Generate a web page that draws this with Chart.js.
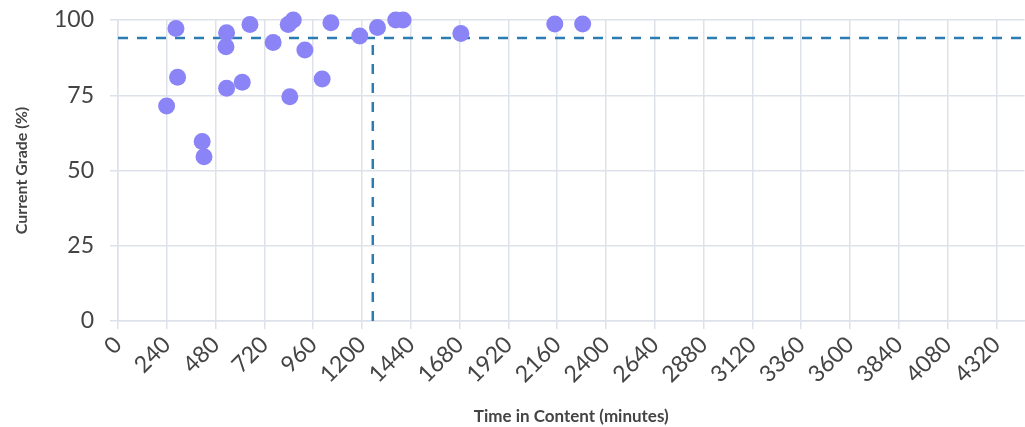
<!DOCTYPE html>
<html>
<head>
    <script src="https://cdn.jsdelivr.net/npm/chart.js"></script>
    <style>
        html, body {
            margin: 0;
            overflow: hidden;
            background-color: white;
            font-family: Lato, sans-serif;
        }
        /* a bit wider than the window so the plot runs off the right edge */
        .chart-box {
            position: relative;
            width: 1033px;
            height: 427px;
        }
    </style>
</head>
<body>
    <div class="chart-box">
        <canvas id="gradeChart"></canvas>
    </div>

    <script>
        // minutes spent in content per student
        const timeMinutes = [239, 285, 293, 414, 423, 534, 531, 534, 611, 649, 763, 837, 862, 845,
            919, 1004, 1047, 1189, 1276, 1366, 1402, 1686, 2148, 2285];
        // current grade per student (%)
        const gradePercent = [71.4, 97.2, 81, 59.6, 54.6, 95.8, 91.1, 77.3, 79.3, 98.5, 92.5, 98.5, 100, 74.5,
            90, 80.4, 99.1, 94.7, 97.5, 100, 100, 95.5, 98.7, 98.7];

        // median reference lines
        const medianTime = 1253;
        const medianGrade = 94;

        const xMax = 4458;
        const xStep = 240;
        const yTicks = [0, 25, 50, 75, 100];

        const points = timeMinutes.map((t, i) => ({ x: t, y: gradePercent[i] }));
        const dashColor = "#2c7bb3";
        const gridColor = "#dde1ea";
        const textColor = "#444444";

        new Chart("gradeChart", {
            type: "scatter",
            data: {
                datasets: [{
                    data: points,
                    backgroundColor: "#8a84f6",
                    borderWidth: 0,
                    pointRadius: 8.5,
                    pointHoverRadius: 8.5,
                    clip: false,
                    order: 0
                }, {
                    type: "line",
                    data: [{ x: 0, y: medianGrade }, { x: xMax, y: medianGrade }],
                    borderColor: dashColor,
                    borderWidth: 2.5,
                    borderDash: [10, 9],
                    pointRadius: 0,
                    order: 1
                }, {
                    type: "line",
                    data: [{ x: medianTime, y: 0 }, { x: medianTime, y: medianGrade }],
                    borderColor: dashColor,
                    borderWidth: 2.5,
                    borderDash: [10, 9],
                    pointRadius: 0,
                    order: 1
                }]
            },
            options: {
                responsive: true,
                maintainAspectRatio: false,
                animation: false,
                layout: {
                    padding: { top: 20, right: 0, bottom: 0, left: 0 }
                },
                plugins: {
                    legend: { display: false },
                    tooltip: { enabled: false }
                },
                scales: {
                    x: {
                        type: "linear",
                        min: 0,
                        max: xMax,
                        afterBuildTicks: (axis) => {
                            const ticks = [];
                            for (let v = 0; v <= xMax; v += xStep) ticks.push({ value: v });
                            axis.ticks = ticks;
                        },
                        afterFit: (axis) => {
                            axis.height = 106;
                        },
                        grid: {
                            color: gridColor,
                            lineWidth: 1.5,
                            tickLength: 8
                        },
                        border: { color: gridColor, width: 1.5 },
                        ticks: {
                            color: textColor,
                            font: { family: "Lato", size: 23 },
                            minRotation: 45,
                            maxRotation: 45,
                            padding: 2,
                            callback: (value) => String(value)
                        },
                        title: {
                            display: true,
                            text: "Time in Content (minutes)",
                            color: textColor,
                            font: { family: "Lato", size: 17, weight: "bold" },
                            padding: { top: 0, bottom: 0 }
                        }
                    },
                    y: {
                        min: 0,
                        max: 100,
                        afterBuildTicks: (axis) => {
                            axis.ticks = yTicks.map(v => ({ value: v }));
                        },
                        afterFit: (axis) => {
                            axis.width = 118;
                            axis.paddingTop = 0;
                            axis.paddingBottom = 0;
                        },
                        grid: {
                            color: gridColor,
                            lineWidth: 1.5,
                            tickLength: 8
                        },
                        border: { color: gridColor, width: 1.5 },
                        ticks: {
                            color: textColor,
                            font: { family: "Lato", size: 23 },
                            padding: 16
                        },
                        title: {
                            display: true,
                            text: "Current Grade (%)",
                            color: textColor,
                            font: { family: "Lato", size: 16, weight: "bold" },
                            padding: { top: 12, bottom: 8 }
                        }
                    }
                }
            }
        });
    </script>
</body>
</html>
